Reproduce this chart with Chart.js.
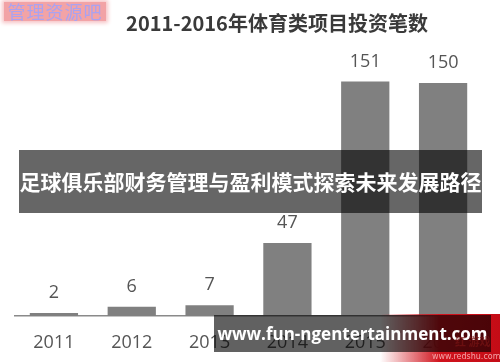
<!DOCTYPE html>
<html>
<head>
<meta charset="utf-8">
<script src="https://cdn.jsdelivr.net/npm/chart.js@4"></script>
<style>
  html, body { margin: 0; padding: 0; background: #fff; }
  #wrap { position: relative; width: 500px; height: 362px; overflow: hidden; }
  #chart { position: absolute; left: 0; top: 0; }
  .ov { position: absolute; box-sizing: border-box; white-space: nowrap; }
  #mark {
    left: 4px; top: 2px; width: 102px; height: 19px;
    background: #f2a3a6; box-shadow: 0 0 4px 2px #f6c2c4;
    color: #aaa2f0; font-family: "Noto Sans CJK SC", sans-serif;
    font-size: 18px; line-height: 19px; text-align: center; letter-spacing: 1px;
  }
  #banner {
    left: 19px; top: 150px; width: 463px; height: 63px;
    background: rgba(0, 0, 0, 0.6); color: #fff;
    font: bold 21px/63px "Noto Sans CJK SC", sans-serif; text-align: center;
  }
  #red {
    left: 380px; top: 314px; width: 120px; height: 48px;
    background: linear-gradient(to right, rgba(255,255,255,0) 0%, #d0121c 50%, #c40c16 100%);
  }
  #site {
    left: 214px; top: 315px; width: 277px; height: 37px;
    background: rgba(0, 0, 0, 0.62); color: #fff;
    font: bold 17px/37px "Open Sans", sans-serif; text-align: center;
  }
  #logo {
    left: 455px; top: 335px; color: rgba(120, 20, 20, 0.7);
    font: bold 11px/12px "Noto Sans CJK SC", sans-serif;
  }
  #redshu {
    left: 432px; top: 352px; color: #f3a5a8;
    font: 8px/9px "DejaVu Sans", sans-serif;
  }
</style>
</head>
<body>
<div id="wrap">
  <canvas id="chart" width="500" height="362"></canvas>
  <div class="ov" id="mark">管理资源吧</div>
  <div class="ov" id="banner">足球俱乐部财务管理与盈利模式探索未来发展路径</div>
  <div class="ov" id="red"></div>
  <div class="ov" id="site">www.fun-ngentertainment.com</div>
  <div class="ov" id="logo">红 游戏</div>
  <div class="ov" id="redshu">www.redshu.com</div>
</div>
<script>
// 数据
var years = ['2011', '2012', '2013', '2014', '2015', '2016'];
var counts = [2, 6, 7, 47, 151, 150];
var chartTitle = '2011-2016年体育类项目投资笔数';

// 标题（原图中偏右，单独绘制）
var titlePlugin = {
    id: 'titlePlugin',
    beforeDraw: function(chart) {
        var ctx = chart.ctx;
        ctx.save();
        ctx.fillStyle = '#3a3a3a';
        ctx.font = 'bold 20px "Noto Sans CJK SC", sans-serif';
        ctx.textAlign = 'center';
        ctx.textBaseline = 'middle';
        ctx.fillText(chartTitle, 277, 23);
        ctx.restore();
    }
};

// 柱顶数值标签
var valueLabels = {
    id: 'valueLabels',
    afterDatasetsDraw: function(chart) {
        var ctx = chart.ctx;
        var meta = chart.getDatasetMeta(0);
        ctx.save();
        ctx.fillStyle = '#555';
        ctx.font = '18px "Open Sans", sans-serif';
        ctx.textAlign = 'center';
        ctx.textBaseline = 'middle';
        meta.data.forEach(function(bar, i) {
            ctx.fillText(counts[i], bar.x, bar.y - 20);
        });
        ctx.restore();
    }
};

var ctx = document.getElementById('chart').getContext('2d');
var chart = new Chart(ctx, {
    type: 'bar',
    data: {
        labels: years,
        datasets: [{
            data: counts,
            backgroundColor: '#808080',
            borderWidth: 0,
            categoryPercentage: 1,
            barPercentage: 0.62
        }]
    },
    options: {
        responsive: false,
        animation: false,
        layout: { padding: { left: 15, right: 18, top: 52, bottom: -8 } },
        plugins: {
            legend: { display: false },
            tooltip: { enabled: false },
            title: { display: false }
        },
        scales: {
            x: {
                grid: { display: false, drawTicks: false },
                border: { display: true, color: '#8a8a8a', width: 1.5 },
                ticks: {
                    color: '#555',
                    padding: 18,
                    font: { family: '"Open Sans", sans-serif', size: 18, lineHeight: 1 }
                }
            },
            y: {
                display: false,
                min: 0,
                max: 170
            }
        }
    },
    plugins: [titlePlugin, valueLabels]
});
</script>
</body>
</html>
